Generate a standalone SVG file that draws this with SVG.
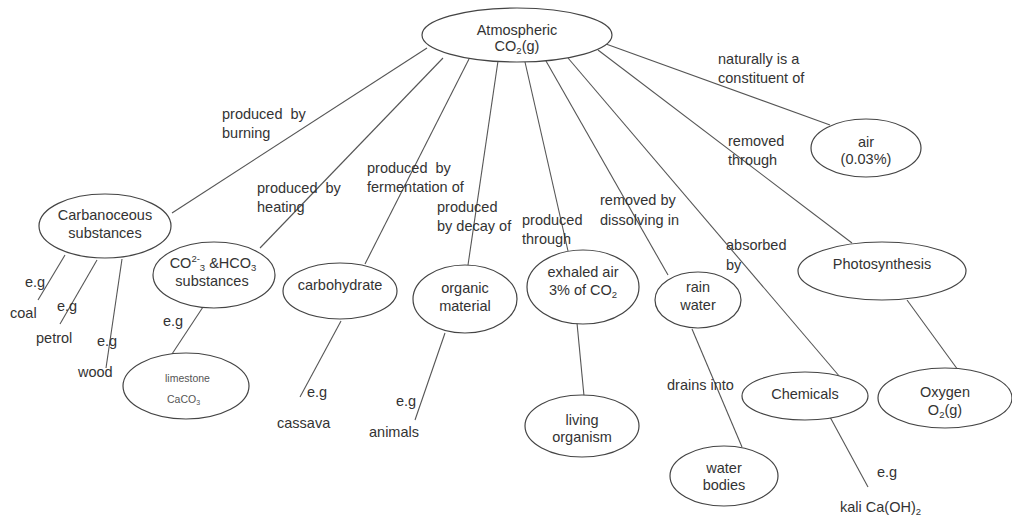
<svg xmlns="http://www.w3.org/2000/svg" width="1012" height="516" viewBox="0 0 1012 516">
<style>
.n ellipse{fill:#fff;stroke:#444;stroke-width:1.2}
text{font-family:"Liberation Sans",Arial,sans-serif;font-size:14.5px;fill:#333;white-space:pre}
.m{text-anchor:middle}
.c line{stroke:#555;stroke-width:1.1}
.s{font-size:9.5px}
.cal{font-size:10.5px;fill:#555}
</style>
<rect width="1012" height="516" fill="#fff"/>
<g id="connectors" class="c">
<line x1="427" y1="48" x2="172" y2="213"/>
<line x1="443" y1="58" x2="260" y2="248"/>
<line x1="469" y1="59" x2="365" y2="264"/>
<line x1="498" y1="61" x2="468" y2="265"/>
<line x1="525" y1="62" x2="568" y2="251"/>
<line x1="546" y1="61" x2="668" y2="275"/>
<line x1="568" y1="58" x2="840" y2="377"/>
<line x1="598" y1="50" x2="852" y2="243"/>
<line x1="606" y1="44" x2="830" y2="125"/>
<line x1="65" y1="255" x2="38" y2="300"/>
<line x1="97" y1="260" x2="60" y2="324"/>
<line x1="122" y1="259" x2="106" y2="368"/>
<line x1="203" y1="307" x2="172" y2="354"/>
<line x1="341" y1="321" x2="300" y2="397"/>
<line x1="445" y1="333" x2="415" y2="420"/>
<line x1="577" y1="323" x2="584" y2="396"/>
<line x1="692" y1="329" x2="742" y2="447"/>
<line x1="907" y1="300" x2="958" y2="370"/>
<line x1="830" y1="417" x2="868" y2="487"/>
<text x="222" y="119">produced  by</text>
<text x="222" y="138">burning</text>
<text x="257" y="193">produced  by</text>
<text x="257" y="212">heating</text>
<text x="367" y="173">produced  by</text>
<text x="367" y="192">fermentation of</text>
<text x="437" y="212">produced</text>
<text x="437" y="231">by decay of</text>
<text x="522" y="225">produced</text>
<text x="522" y="244">through</text>
<text x="600" y="205">removed by</text>
<text x="600" y="225">dissolving in</text>
<text x="726" y="250">absorbed</text>
<text x="726" y="270">by</text>
<text x="728" y="146">removed</text>
<text x="728" y="165">through</text>
<text x="718" y="64">naturally is a</text>
<text x="718" y="83">constituent of</text>
<text x="667" y="390">drains into</text>
<text x="25" y="287">e.g</text>
<text x="57" y="311">e.g</text>
<text x="97" y="346">e.g</text>
<text x="163" y="326">e.g</text>
<text x="307" y="397">e.g</text>
<text x="396" y="406">e.g</text>
<text x="877" y="477">e.g</text>
</g>
<g id="atmospheric" class="n"><ellipse cx="517" cy="35" rx="95" ry="27"/><text class="m" x="517" y="35">Atmospheric</text><text class="m" x="517" y="51">CO<tspan class="s" dy="3">2</tspan><tspan dy="-3">(g)</tspan></text></g>
<g id="carbanoceous" class="n"><ellipse cx="105" cy="226" rx="66" ry="32"/><text class="m" x="105" y="220">Carbanoceous</text><text class="m" x="105" y="238">substances</text></g>
<g id="carbonates" class="n"><ellipse cx="214" cy="275" rx="61" ry="33"/><text class="m" x="213" y="268">CO<tspan class="s" dy="-6">2-</tspan><tspan class="s" dy="9">3</tspan><tspan dy="-3"> &amp;HCO</tspan><tspan class="s" dy="3">3</tspan></text><text class="m" x="212" y="286">substances</text></g>
<g id="limestone" class="n"><ellipse cx="186" cy="386" rx="63" ry="33"/><text class="cal" x="165" y="382">limestone</text><text class="cal" x="167" y="403">CaCO<tspan font-size="7" dy="2">3</tspan></text></g>
<g id="carbohydrate" class="n"><ellipse cx="340" cy="291" rx="57" ry="28"/><text class="m" x="340" y="290">carbohydrate</text></g>
<g id="organic" class="n"><ellipse cx="465" cy="299" rx="52" ry="34"/><text class="m" x="465" y="293">organic</text><text class="m" x="465" y="311">material</text></g>
<g id="exhaled" class="n"><ellipse cx="583" cy="287" rx="56" ry="37"/><text class="m" x="583" y="277">exhaled air</text><text class="m" x="583" y="295">3% of CO<tspan class="s" dy="3">2</tspan></text></g>
<g id="rainwater" class="n"><ellipse cx="698" cy="300" rx="43" ry="28"/><text class="m" x="698" y="292">rain</text><text class="m" x="698" y="310">water</text></g>
<g id="chemicals" class="n"><ellipse cx="805" cy="396" rx="63" ry="24"/><text class="m" x="805" y="399">Chemicals</text></g>
<g id="waterbodies" class="n"><ellipse cx="724" cy="476" rx="54" ry="30"/><text class="m" x="724" y="473">water</text><text class="m" x="724" y="490">bodies</text></g>
<g id="photosynthesis" class="n"><ellipse cx="882" cy="271" rx="84" ry="29"/><text class="m" x="882" y="269">Photosynthesis</text></g>
<g id="oxygen" class="n"><ellipse cx="945" cy="398" rx="67" ry="30"/><text class="m" x="945" y="397">Oxygen</text><text class="m" x="945" y="415">O<tspan class="s" dy="3">2</tspan><tspan dy="-3">(g)</tspan></text></g>
<g id="air" class="n"><ellipse cx="866" cy="148" rx="55" ry="29"/><text class="m" x="866" y="147">air</text><text class="m" x="866" y="164">(0.03%)</text></g>
<g id="living" class="n"><ellipse cx="582" cy="426" rx="57" ry="31"/><text class="m" x="582" y="425">living</text><text class="m" x="582" y="442">organism</text></g>
<g id="leaves">
<text x="10" y="318">coal</text>
<text x="36" y="343">petrol</text>
<text x="78" y="377">wood</text>
<text x="277" y="428">cassava</text>
<text x="369" y="437">animals</text>
<text x="840" y="512">kali Ca(OH)<tspan class="s" dy="3">2</tspan></text>
</g>
</svg>
